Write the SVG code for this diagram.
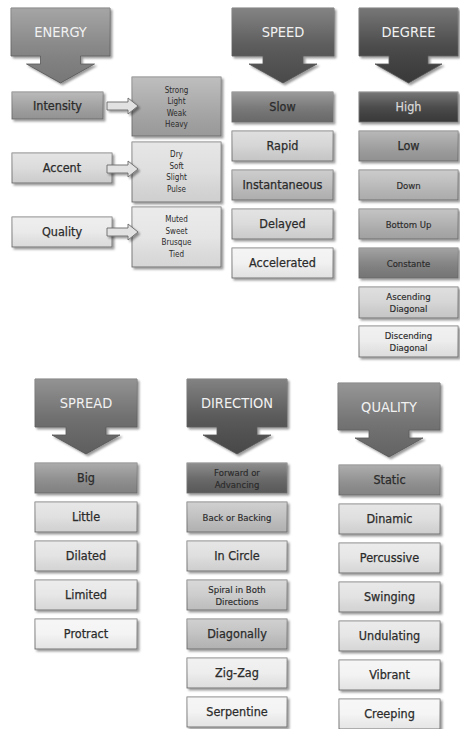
<svg xmlns="http://www.w3.org/2000/svg" width="460" height="729" viewBox="0 0 460 729">
<defs>
<filter id="sh" x="-10%" y="-10%" width="130%" height="140%"><feDropShadow dx="2" dy="2" stdDeviation="1" flood-color="#000" flood-opacity="0.4"/></filter>
<linearGradient id="sheen" x1="0" y1="0" x2="0" y2="1"><stop offset="0" stop-color="#fff" stop-opacity="0.3"/><stop offset="0.5" stop-color="#fff" stop-opacity="0.08"/><stop offset="1" stop-color="#000" stop-opacity="0.06"/></linearGradient>
</defs>
<style>
.box{stroke:#6f6f6f;stroke-width:0.9;filter:url(#sh)}
.sh{fill:url(#sheen);stroke:none}
.head{stroke:#555;stroke-width:0.8;filter:url(#sh)}
text{font-family:"DejaVu Sans Condensed","DejaVu Sans",sans-serif;text-anchor:middle;fill:#2b2b2b}
.ht{font-size:14.5px;fill:#f2f2f2}
.t{font-size:12.5px;stroke:#2b2b2b;stroke-width:0.25}
.s{font-size:9.5px;stroke:#2b2b2b;stroke-width:0.15}
.l{font-size:8px}
.conn{fill:#e2e2e2;stroke:#6a6a6a;stroke-width:0.9;filter:url(#sh)}
</style>
<rect width="460" height="729" fill="#fff"/>

<g id="energy">
<path class="head" fill="#7f7f7f" d="M11,8 H110 V56 H80.5 V64 H94.5 L60.5,83 L26.5,64 H40.5 V56 H11 Z"/>
<path class="sh" d="M11,8 H110 V56 H80.5 V64 H94.5 L60.5,83 L26.5,64 H40.5 V56 H11 Z"/>
<text class="ht" x="60.5" y="37">ENERGY</text>
</g>
<g id="intensity"><rect class="box" x="12" y="92" width="91" height="27" fill="#9c9c9c"/><rect class="sh" x="12" y="92" width="91" height="27"/><text class="t" x="57.5" y="110">Intensity</text></g>
<g id="accent"><rect class="box" x="12" y="153" width="100" height="30" fill="#d9d9d9"/><rect class="sh" x="12" y="153" width="100" height="30"/><text class="t" x="62" y="172">Accent</text></g>
<g id="quality-e"><rect class="box" x="12" y="217" width="100" height="30" fill="#e8e8e8"/><rect class="sh" x="12" y="217" width="100" height="30"/><text class="t" x="62" y="236">Quality</text></g>
<g id="intensity-list"><rect class="box" x="132" y="77" width="89" height="59" fill="#a3a3a3"/><rect class="sh" x="132" y="77" width="89" height="59"/>
<text class="l" x="176.5" y="92.5">Strong</text><text class="l" x="176.5" y="104">Light</text><text class="l" x="176.5" y="115.5">Weak</text><text class="l" x="176.5" y="127">Heavy</text></g>
<g id="accent-list"><rect class="box" x="132" y="142" width="89" height="60" fill="#dcdcdc"/><rect class="sh" x="132" y="142" width="89" height="60"/>
<text class="l" x="176.5" y="157">Dry</text><text class="l" x="176.5" y="168.5">Soft</text><text class="l" x="176.5" y="180">Slight</text><text class="l" x="176.5" y="191.5">Pulse</text></g>
<g id="quality-list"><rect class="box" x="132" y="207" width="89" height="60" fill="#e3e3e3"/><rect class="sh" x="132" y="207" width="89" height="60"/>
<text class="l" x="176.5" y="222">Muted</text><text class="l" x="176.5" y="233.5">Sweet</text><text class="l" x="176.5" y="245">Brusque</text><text class="l" x="176.5" y="256.5">Tied</text></g>

<g id="speed">
<path class="head" fill="#4f4f4f" d="M232,8 H334 V56 H303 V64 H317 L283,83 L249,64 H263 V56 H232 Z"/>
<path class="sh" d="M232,8 H334 V56 H303 V64 H317 L283,83 L249,64 H263 V56 H232 Z"/>
<text class="ht" x="283" y="37">SPEED</text>
</g>
<g id="slow"><rect class="box" x="232" y="92" width="101" height="30" fill="#707070"/><rect class="sh" x="232" y="92" width="101" height="30"/><text class="t" x="282.5" y="111">Slow</text></g>
<g id="rapid"><rect class="box" x="232" y="131" width="101" height="30" fill="#d2d2d2"/><rect class="sh" x="232" y="131" width="101" height="30"/><text class="t" x="282.5" y="150">Rapid</text></g>
<g id="instantaneous"><rect class="box" x="232" y="170" width="101" height="30" fill="#b9b9b9"/><rect class="sh" x="232" y="170" width="101" height="30"/><text class="t" x="282.5" y="189">Instantaneous</text></g>
<g id="delayed"><rect class="box" x="232" y="209" width="101" height="30" fill="#d8d8d8"/><rect class="sh" x="232" y="209" width="101" height="30"/><text class="t" x="282.5" y="228">Delayed</text></g>
<g id="accelerated"><rect class="box" x="232" y="248" width="101" height="30" fill="#f0f0f0"/><rect class="sh" x="232" y="248" width="101" height="30"/><text class="t" x="282.5" y="267">Accelerated</text></g>

<g id="degree">
<path class="head" fill="#3d3d3d" d="M359,8 H458 V56 H428 V64 H442 L408.5,83 L375,64 H389 V56 H359 Z"/>
<path class="sh" d="M359,8 H458 V56 H428 V64 H442 L408.5,83 L375,64 H389 V56 H359 Z"/>
<text class="ht" x="408.5" y="37">DEGREE</text>
</g>
<g id="high"><rect class="box" x="359" y="92" width="99" height="30" fill="#3c3c3c"/><rect class="sh" x="359" y="92" width="99" height="30"/><text class="t" x="408.5" y="111" style="fill:#d8d8d8;stroke:#d8d8d8">High</text></g>
<g id="low"><rect class="box" x="359" y="131" width="99" height="30" fill="#9a9a9a"/><rect class="sh" x="359" y="131" width="99" height="30"/><text class="t" x="408.5" y="150">Low</text></g>
<g id="down"><rect class="box" x="359" y="170" width="99" height="30" fill="#b6b6b6"/><rect class="sh" x="359" y="170" width="99" height="30"/><text class="s" x="408.5" y="188.5">Down</text></g>
<g id="bottom-up"><rect class="box" x="359" y="209" width="99" height="30" fill="#ababab"/><rect class="sh" x="359" y="209" width="99" height="30"/><text class="s" x="408.5" y="227.5">Bottom Up</text></g>
<g id="constante"><rect class="box" x="359" y="248" width="99" height="30" fill="#7b7b7b"/><rect class="sh" x="359" y="248" width="99" height="30"/><text class="s" x="408.5" y="266.5">Constante</text></g>
<g id="ascending"><rect class="box" x="359" y="287" width="99" height="31" fill="#d2d2d2"/><rect class="sh" x="359" y="287" width="99" height="31"/><text class="s" x="408.5" y="300">Ascending</text><text class="s" x="408.5" y="312">Diagonal</text></g>
<g id="discending"><rect class="box" x="359" y="326" width="99" height="31" fill="#ebebeb"/><rect class="sh" x="359" y="326" width="99" height="31"/><text class="s" x="408.5" y="339">Discending</text><text class="s" x="408.5" y="351">Diagonal</text></g>

<g id="spread">
<path class="head" fill="#656565" d="M35,379 H137 V427 H106 V435 H120 L86,454 L52,435 H66 V427 H35 Z"/>
<path class="sh" d="M35,379 H137 V427 H106 V435 H120 L86,454 L52,435 H66 V427 H35 Z"/>
<text class="ht" x="86" y="408">SPREAD</text>
</g>
<g id="big"><rect class="box" x="35" y="463" width="102" height="30" fill="#898989"/><rect class="sh" x="35" y="463" width="102" height="30"/><text class="t" x="86" y="482">Big</text></g>
<g id="little"><rect class="box" x="35" y="502" width="102" height="30" fill="#dedede"/><rect class="sh" x="35" y="502" width="102" height="30"/><text class="t" x="86" y="521">Little</text></g>
<g id="dilated"><rect class="box" x="35" y="541" width="102" height="30" fill="#e1e1e1"/><rect class="sh" x="35" y="541" width="102" height="30"/><text class="t" x="86" y="560">Dilated</text></g>
<g id="limited"><rect class="box" x="35" y="580" width="102" height="30" fill="#e5e5e5"/><rect class="sh" x="35" y="580" width="102" height="30"/><text class="t" x="86" y="599">Limited</text></g>
<g id="protract"><rect class="box" x="35" y="619" width="102" height="30" fill="#f3f3f3"/><rect class="sh" x="35" y="619" width="102" height="30"/><text class="t" x="86" y="638">Protract</text></g>

<g id="direction">
<path class="head" fill="#4d4d4d" d="M187,379 H287 V427 H257 V435 H271 L237,454 L203,435 H217 V427 H187 Z"/>
<path class="sh" d="M187,379 H287 V427 H257 V435 H271 L237,454 L203,435 H217 V427 H187 Z"/>
<text class="ht" x="237" y="408">DIRECTION</text>
</g>
<g id="forward"><rect class="box" x="187" y="463" width="100" height="30" fill="#5f5f5f"/><rect class="sh" x="187" y="463" width="100" height="30"/><text class="s" x="237" y="475.5">Forward or</text><text class="s" x="237" y="487.5">Advancing</text></g>
<g id="back"><rect class="box" x="187" y="502" width="100" height="30" fill="#bcbcbc"/><rect class="sh" x="187" y="502" width="100" height="30"/><text class="s" x="237" y="520.5">Back or Backing</text></g>
<g id="in-circle"><rect class="box" x="187" y="541" width="100" height="30" fill="#dcdcdc"/><rect class="sh" x="187" y="541" width="100" height="30"/><text class="t" x="237" y="560">In Circle</text></g>
<g id="spiral"><rect class="box" x="187" y="580" width="100" height="30" fill="#c9c9c9"/><rect class="sh" x="187" y="580" width="100" height="30"/><text class="s" x="237" y="592.5">Spiral in Both</text><text class="s" x="237" y="604.5">Directions</text></g>
<g id="diagonally"><rect class="box" x="187" y="619" width="100" height="30" fill="#bdbdbd"/><rect class="sh" x="187" y="619" width="100" height="30"/><text class="t" x="237" y="638">Diagonally</text></g>
<g id="zig-zag"><rect class="box" x="187" y="658" width="100" height="30" fill="#ececec"/><rect class="sh" x="187" y="658" width="100" height="30"/><text class="t" x="237" y="677">Zig-Zag</text></g>
<g id="serpentine"><rect class="box" x="187" y="697" width="100" height="30" fill="#f2f2f2"/><rect class="sh" x="187" y="697" width="100" height="30"/><text class="t" x="237" y="716">Serpentine</text></g>

<g id="quality">
<path class="head" fill="#6b6b6b" d="M338,383 H440 V430 H409 V438 H423 L389,457 L355,438 H369 V430 H338 Z"/>
<path class="sh" d="M338,383 H440 V430 H409 V438 H423 L389,457 L355,438 H369 V430 H338 Z"/>
<text class="ht" x="389" y="412">QUALITY</text>
</g>
<g id="static"><rect class="box" x="339" y="465" width="101" height="30" fill="#8b8b8b"/><rect class="sh" x="339" y="465" width="101" height="30"/><text class="t" x="389.5" y="484">Static</text></g>
<g id="dinamic"><rect class="box" x="339" y="504" width="101" height="30" fill="#dcdcdc"/><rect class="sh" x="339" y="504" width="101" height="30"/><text class="t" x="389.5" y="523">Dinamic</text></g>
<g id="percussive"><rect class="box" x="339" y="543" width="101" height="30" fill="#e4e4e4"/><rect class="sh" x="339" y="543" width="101" height="30"/><text class="t" x="389.5" y="562">Percussive</text></g>
<g id="swinging"><rect class="box" x="339" y="582" width="101" height="30" fill="#e0e0e0"/><rect class="sh" x="339" y="582" width="101" height="30"/><text class="t" x="389.5" y="601">Swinging</text></g>
<g id="undulating"><rect class="box" x="339" y="621" width="101" height="30" fill="#e4e4e4"/><rect class="sh" x="339" y="621" width="101" height="30"/><text class="t" x="389.5" y="640">Undulating</text></g>
<g id="vibrant"><rect class="box" x="339" y="660" width="101" height="30" fill="#f2f2f2"/><rect class="sh" x="339" y="660" width="101" height="30"/><text class="t" x="389.5" y="679">Vibrant</text></g>
<g id="creeping"><rect class="box" x="339" y="699" width="101" height="30" fill="#f4f4f4"/><rect class="sh" x="339" y="699" width="101" height="30"/><text class="t" x="389.5" y="718">Creeping</text></g>

<g id="connectors">
<path class="conn" d="M107,102 H128 V98 L138,106 L128,114 V110 H107 Z"/>
<path class="conn" d="M107,165 H128 V161 L138,169 L128,177 V173 H107 Z"/>
<path class="conn" d="M107,228 H128 V224 L138,232 L128,240 V236 H107 Z"/>
</g>
</svg>
